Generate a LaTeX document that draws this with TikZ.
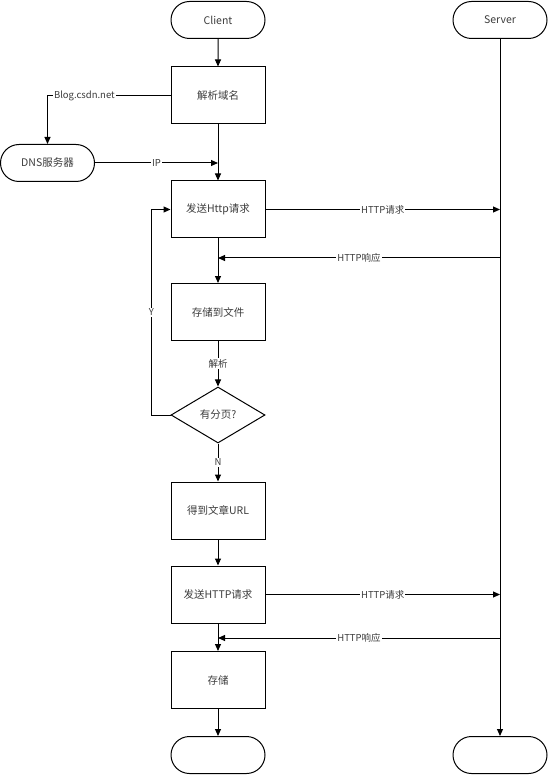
\documentclass[tikz,border=0pt]{standalone}
\usepackage{fontspec}
\usepackage{xcolor}
\usepackage{tikz}
\usetikzlibrary{shapes.misc,shapes.geometric,arrows.meta}
\newfontfamily\cjk{Noto Sans CJK SC}
\definecolor{ink}{HTML}{000000}
\definecolor{txt}{HTML}{3C3C3C}
\tikzset{
  proc/.style={draw=ink, line width=1pt, minimum width=94pt, minimum height=57pt, inner sep=0pt, text=txt, font=\cjk\fontsize{10.5}{12}\selectfont},
  term/.style={draw=ink, rounded rectangle, line width=1pt, minimum width=94pt, minimum height=37pt, inner sep=0pt, text=txt, font=\cjk\fontsize{10.5}{12}\selectfont},
  dec/.style={draw=ink, diamond, aspect=1.68, line width=1pt, minimum width=94pt, minimum height=56pt, inner sep=0pt, text=txt, font=\cjk\fontsize{10.5}{12}\selectfont},
  flow/.style={draw=ink, line width=1pt, -{Triangle[length=7pt,width=6pt]}},
  wire/.style={draw=ink, line width=1pt},
  lab/.style={fill=white, inner sep=1pt, text=txt, font=\cjk\fontsize{9.5}{11}\selectfont},
}
\begin{document}
\begin{tikzpicture}[x=1pt,y=-1pt]
  \useasboundingbox (0,0) rectangle (548,775);
  % client column
  \node[term] (cli) at (218,20) {Client};
  \node[proc] (jx) at (218,95.5) {解析域名};
  \node[term] (dns) at (47.5,163) {DNS服务器};
  \node[proc] (send) at (218,209.5) {发送Http请求};
  \node[proc] (file) at (218,312) {存储到文件};
  \node[dec] (page) at (218,415) {有分页?};
  \node[proc] (url) at (218,510.5) {得到文章URL};
  \node[proc] (send2) at (218,594.5) {发送HTTP请求};
  \node[proc] (store) at (218,680) {存储};
  \node[term] (cliE) at (218,755) {};
  % server column
  \node[term] (srv) at (500,20) {Server};
  \node[term] (srvE) at (500,755) {};
  \coordinate (resp) at (500,258);
  \coordinate (resp2) at (500,638);

  \draw[flow] (cli) -- (jx);
  \draw[flow] (jx.west) -| node[lab,pos=0.35] {Blog.csdn.net} (dns.north);
  \draw[flow] (dns.east) -- node[lab] {IP} (dns.east -| jx.south);
  \draw[flow] (jx) -- (send);
  \draw[flow] (send.east) -- node[lab] {HTTP请求} (send.east -| srv.south);
  \draw[flow] (resp) -- node[lab] {HTTP响应} (resp -| send.south);
  \draw[flow] (send) -- (file);
  \draw[flow] (file) -- node[lab] {解析} (page);
  \draw[flow] (page.west) -- ++(-19,0) |- node[lab,pos=0.25] {Y} (send.west);
  \draw[flow] (page) -- node[lab] {N} (url);
  \draw[flow] (url) -- (send2);
  \draw[flow] (send2.east) -- node[lab] {HTTP请求} (send2.east -| srv.south);
  \draw[flow] (resp2) -- node[lab] {HTTP响应} (resp2 -| send2.south);
  \draw[flow] (send2) -- (store);
  \draw[flow] (store) -- (cliE);
  \draw[flow] (srv) -- (srvE);
\end{tikzpicture}
\end{document}
